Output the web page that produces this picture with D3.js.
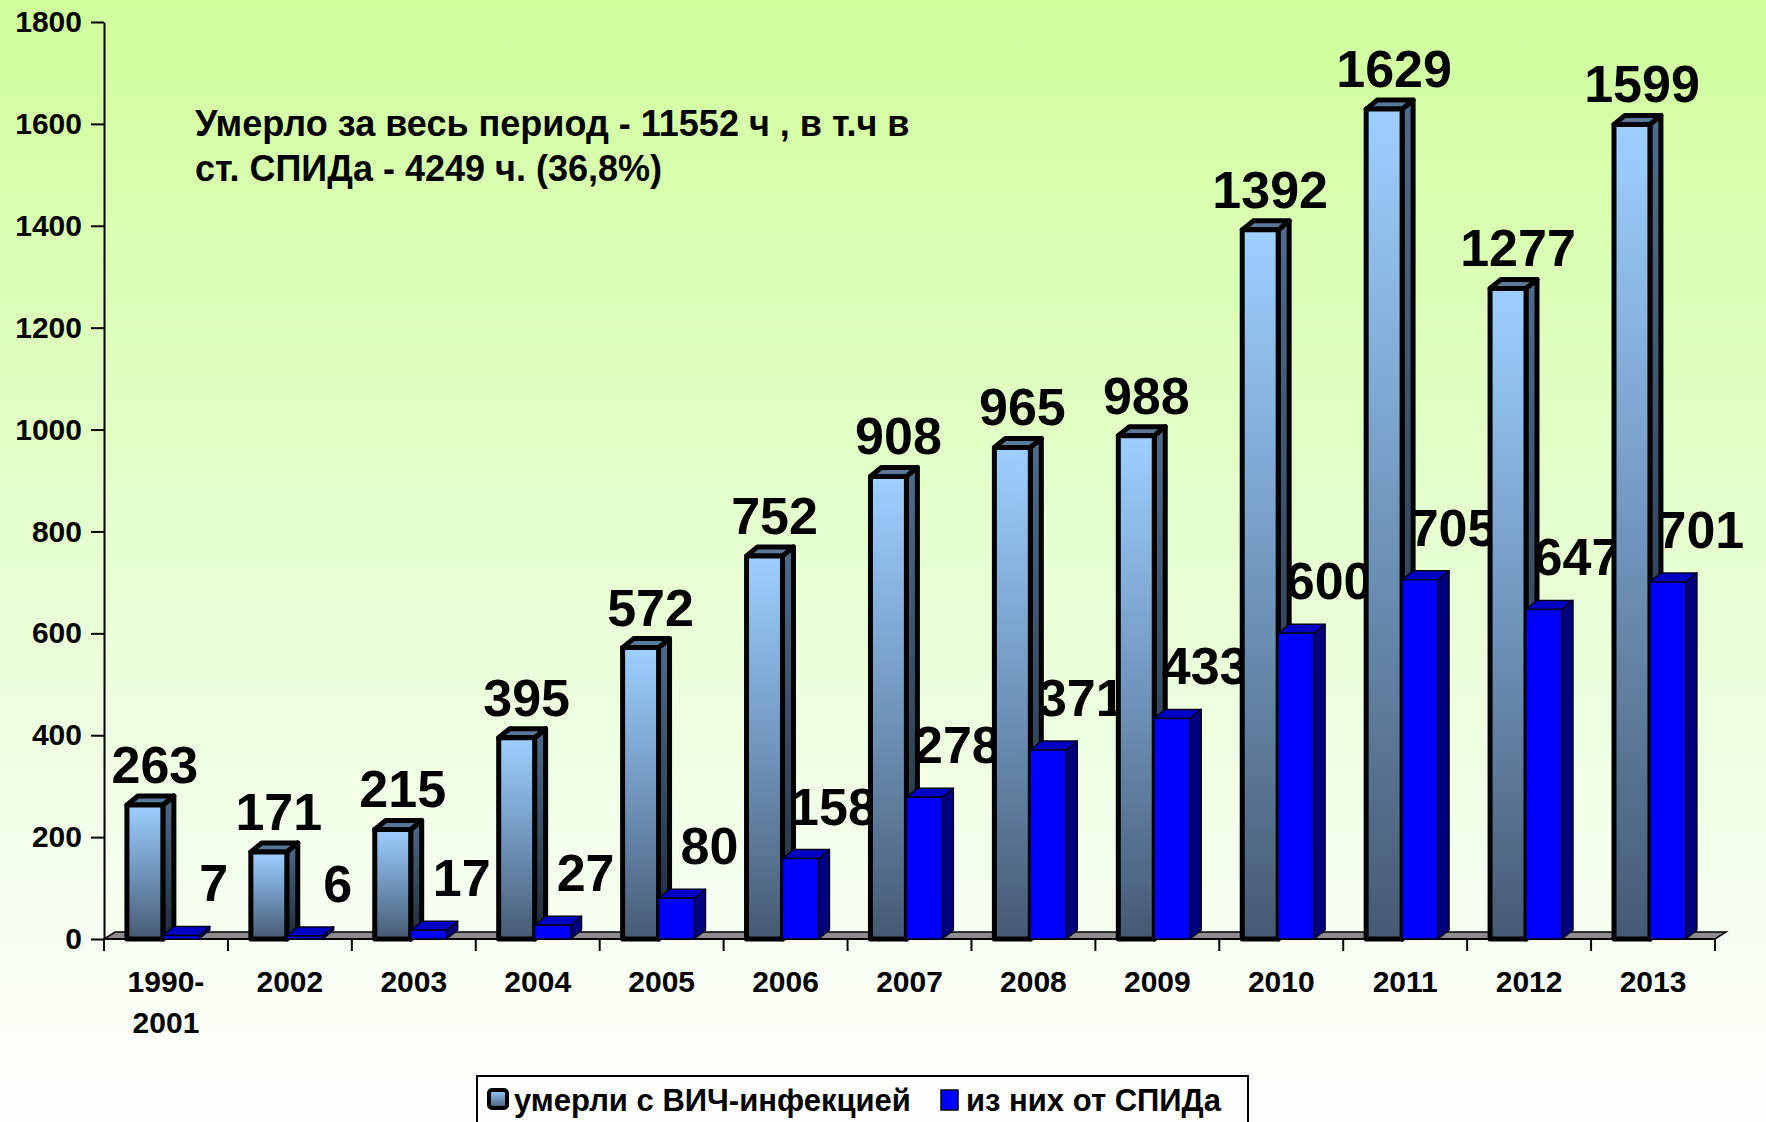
<!DOCTYPE html>
<html>
<head>
<meta charset="utf-8">
<script src="https://cdn.jsdelivr.net/npm/d3@7"></script>
<style>
  body { margin: 0; }
  text { font-family: "Liberation Sans", Arial, sans-serif; font-weight: bold; fill: #000; }
</style>
</head>
<body>
<div id="chart"></div>
<script>

// data
var categories = ["1990-2001", "2002", "2003", "2004", "2005", "2006", "2007",
                  "2008", "2009", "2010", "2011", "2012", "2013"];
var hivDeaths  = [263, 171, 215, 395, 572, 752, 908, 965, 988, 1392, 1629, 1277, 1599];
var aidsDeaths = [7, 6, 17, 27, 80, 158, 278, 371, 433, 600, 705, 647, 701];
var yTicks = [0, 200, 400, 600, 800, 1000, 1200, 1400, 1600, 1800];
var seriesNames = ["умерли с ВИЧ-инфекцией", "из них от СПИДа"];
var noteLines = ["Умерло за весь период - 11552 ч , в т.ч в",
                 "ст. СПИДа - 4249 ч. (36,8%)"];

var W = 1766, H = 1122;

var svg = d3.select("#chart").append("svg")
    .attr("width", W)
    .attr("height", H);

var defs = svg.append("defs");

// background
var bg = defs.append("linearGradient").attr("id", "bg")
    .attr("x1", 0).attr("y1", 0).attr("x2", 0).attr("y2", 1);
bg.append("stop").attr("offset", "0%").attr("stop-color", "#d0ff9c");
bg.append("stop").attr("offset", "45%").attr("stop-color", "#e4ffcc");
bg.append("stop").attr("offset", "80%").attr("stop-color", "#f6fff0");
bg.append("stop").attr("offset", "100%").attr("stop-color", "#fdfffb");

// light bar faces
var front = defs.append("linearGradient").attr("id", "front")
    .attr("x1", 0).attr("y1", 0).attr("x2", 0).attr("y2", 1);
front.append("stop").attr("offset", "0%").attr("stop-color", "#9dd0ff");
front.append("stop").attr("offset", "50%").attr("stop-color", "#7196bd");
front.append("stop").attr("offset", "100%").attr("stop-color", "#455a72");

var side = defs.append("linearGradient").attr("id", "side")
    .attr("x1", 0).attr("y1", 0).attr("x2", 0).attr("y2", 1);
side.append("stop").attr("offset", "0%").attr("stop-color", "#4f6a8a");
side.append("stop").attr("offset", "100%").attr("stop-color", "#1f2b38");

svg.append("rect")
    .attr("width", W)
    .attr("height", H)
    .attr("fill", "url(#bg)");

// scales
var x = d3.scaleBand()
    .domain(categories)
    .range([104, 1715])
    .padding(0);

var y = d3.scaleLinear()
    .domain([0, 1800])
    .range([939, 22]);

var bw = x.bandwidth();
var barW = bw * 0.29;
var offLight = bw * 0.185;
var offAids = offLight + barW;
var dx = 11, dy = -9;     // 3d depth of bars
var fdx = 11, fdy = -7;   // depth of floor
var y0 = y(0);

// floor
svg.append("polygon")
    .attr("points", [[x.range()[0], y0], [x.range()[1], y0],
                     [x.range()[1] + fdx, y0 + fdy], [x.range()[0] + fdx, y0 + fdy]].join(" "))
    .attr("fill", "#8c8c8c")
    .attr("stroke", "#000")
    .attr("stroke-width", 1.5);

// y axis
var yAxis = svg.append("g")
    .attr("transform", "translate(104,0)")
    .call(d3.axisLeft(y).tickValues(yTicks).tickFormat(d3.format("d"))
        .tickSize(13).tickSizeOuter(0).tickPadding(9));
yAxis.select(".domain").attr("stroke", "#000").attr("stroke-width", 2);
yAxis.selectAll(".tick line").attr("stroke", "#000").attr("stroke-width", 2);
yAxis.selectAll(".tick text")
    .style("font-size", "30px")
    .style("font-family", "'Liberation Sans', Arial, sans-serif")
    .style("font-weight", "bold")
    .attr("fill", "#000");

// x axis
svg.append("line")
    .attr("x1", x.range()[0]).attr("x2", x.range()[1])
    .attr("y1", y0).attr("y2", y0)
    .attr("stroke", "#000").attr("stroke-width", 2);

var bounds = categories.map(function(c) { return x(c); }).concat([x.range()[1]]);
svg.selectAll(".xtick").data(bounds).enter().append("line")
    .attr("class", "xtick")
    .attr("x1", function(d) { return d; }).attr("x2", function(d) { return d; })
    .attr("y1", y0).attr("y2", y0 + 12)
    .attr("stroke", "#000").attr("stroke-width", 2);

var xlab = svg.selectAll(".xlab").data(categories).enter().append("text")
    .attr("class", "xlab")
    .attr("text-anchor", "middle")
    .style("font-size", "30px");
xlab.each(function(c) {
    var parts = c.indexOf("-") > 0 ? [c.split("-")[0] + "-", c.split("-")[1]] : [c];
    var t = d3.select(this);
    parts.forEach(function(p, i) {
        t.append("tspan")
            .attr("x", x(c) + bw / 2)
            .attr("y", 992 + i * 41)
            .text(p);
    });
});

// bars, one group per category so the next one covers the labels
function box(g, x0, top, w, cls) {
    var pts = function(a) { return a.join(" "); };
    g.append("polygon").attr("class", cls + "-side")
        .attr("points", pts([[x0 + w, top], [x0 + w + dx, top + dy], [x0 + w + dx, y0 + dy], [x0 + w, y0]]));
    g.append("polygon").attr("class", cls + "-top")
        .attr("points", pts([[x0, top], [x0 + dx, top + dy], [x0 + w + dx, top + dy], [x0 + w, top]]));
    g.append("rect").attr("class", cls + "-front")
        .attr("x", x0).attr("y", top)
        .attr("width", w).attr("height", y0 - top);
}

var groups = svg.selectAll(".cat")
    .data(categories.map(function(c, i) { return { cat: c, hiv: hivDeaths[i], aids: aidsDeaths[i] }; }))
    .enter().append("g")
    .attr("class", "cat");

groups.each(function(d) {
    var g = d3.select(this);
    var xl = x(d.cat) + offLight;
    var xa = x(d.cat) + offAids;

    var gl = g.append("g")
        .attr("stroke", "#000")
        .attr("stroke-width", 5)
        .attr("stroke-linejoin", "round");
    box(gl, xl, y(d.hiv), barW, "hiv");
    gl.select(".hiv-side").attr("fill", "url(#side)");
    gl.select(".hiv-top").attr("fill", "#5a7899");
    gl.select(".hiv-front").attr("fill", "url(#front)");

    var ga = g.append("g")
        .attr("stroke", "#00001a")
        .attr("stroke-width", 1.5)
        .attr("stroke-linejoin", "round");
    box(ga, xa, y(d.aids), barW, "aids");
    ga.select(".aids-side").attr("fill", "#000080");
    ga.select(".aids-top").attr("fill", "#0000c4");
    ga.select(".aids-front").attr("fill", "#0000ff");

    g.append("text")
        .attr("x", xl + barW / 2 + 10)
        .attr("y", y(d.hiv) - 22)
        .attr("text-anchor", "middle")
        .style("font-size", "52px")
        .text(d.hiv);

    g.append("text")
        .attr("x", xa + barW / 2 + 33)
        .attr("y", y(d.aids) - 34)
        .attr("text-anchor", "middle")
        .style("font-size", "52px")
        .text(d.aids);
});

// note
svg.append("text")
    .style("font-size", "36px")
    .selectAll("tspan").data(noteLines).enter().append("tspan")
    .attr("x", 195)
    .attr("y", function(d, i) { return 136 + i * 45; })
    .text(function(d) { return d; });

// legend
var leg = svg.append("g");
leg.append("rect")
    .attr("x", 477).attr("y", 1076)
    .attr("width", 771).attr("height", 70)
    .attr("fill", "#fdfffb")
    .attr("stroke", "#000").attr("stroke-width", 2);

leg.append("rect")
    .attr("x", 489).attr("y", 1090)
    .attr("width", 18).attr("height", 18)
    .attr("rx", 3)
    .attr("fill", "url(#front)")
    .attr("stroke", "#000").attr("stroke-width", 4);
leg.append("text")
    .attr("x", 514).attr("y", 1111)
    .style("font-size", "31px")
    .text(seriesNames[0]);

leg.append("rect")
    .attr("x", 941).attr("y", 1090)
    .attr("width", 17).attr("height", 20)
    .attr("fill", "#0000ff")
    .attr("stroke", "#00001a").attr("stroke-width", 1.5);
leg.append("text")
    .attr("x", 966).attr("y", 1111)
    .style("font-size", "31px")
    .text(seriesNames[1]);

</script>
</body>
</html>
